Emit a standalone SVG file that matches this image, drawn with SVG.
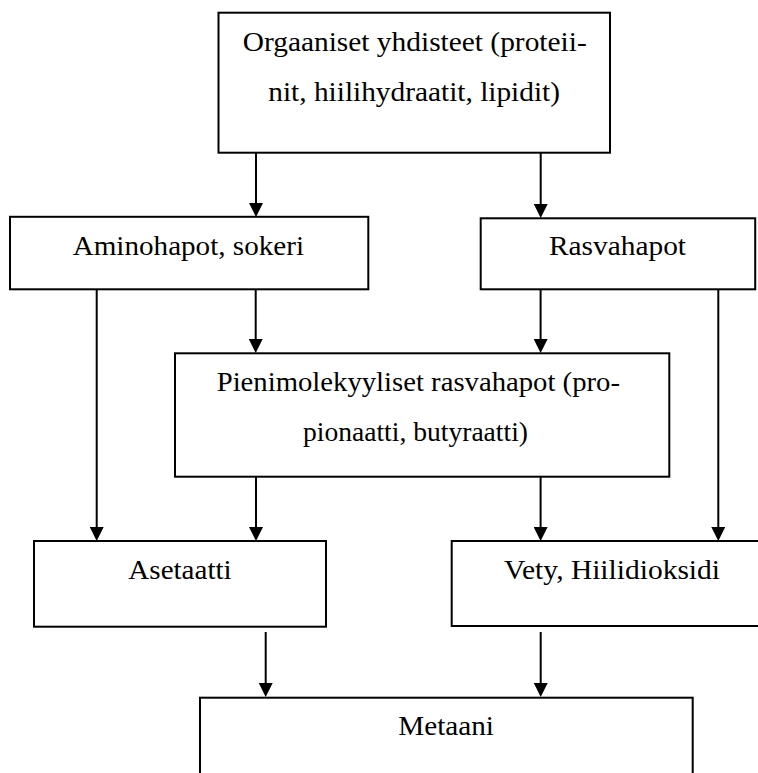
<svg xmlns="http://www.w3.org/2000/svg" width="758" height="773" viewBox="0 0 758 773">
<style>
.box{fill:#fff;stroke:#000;stroke-width:2}
.lbl{font-family:"Liberation Serif","Times New Roman",serif;font-size:27px;fill:#000}
.conn{stroke:#000;stroke-width:2;fill:none;marker-end:url(#ah)}
</style>
<defs>
<marker id="ah" markerUnits="userSpaceOnUse" markerWidth="15" markerHeight="14" refX="6" refY="7" orient="auto">
<path d="M0,0 L14,7 L0,14 z" fill="#000"/>
</marker>
</defs>
<rect width="758" height="773" fill="#fff"/>
<g id="connectors">
<line class="conn" x1="256" y1="153" x2="256" y2="209"/>
<line class="conn" x1="540.7" y1="153" x2="540.7" y2="210"/>
<line class="conn" x1="96.7" y1="289" x2="96.7" y2="533"/>
<line class="conn" x1="255.7" y1="289" x2="255.7" y2="345"/>
<line class="conn" x1="540.6" y1="289" x2="540.6" y2="345"/>
<line class="conn" x1="718.3" y1="289" x2="718.3" y2="533"/>
<line class="conn" x1="256" y1="476" x2="256" y2="533"/>
<line class="conn" x1="540.6" y1="476" x2="540.6" y2="533"/>
<line class="conn" x1="265.7" y1="632" x2="265.7" y2="689"/>
<line class="conn" x1="540.7" y1="632" x2="540.7" y2="689"/>
</g>
<g id="organiset">
<rect class="box" x="218.5" y="12.7" width="391.5" height="140"/>
<text class="lbl" x="242.7" y="50.5" textLength="344" lengthAdjust="spacingAndGlyphs">Orgaaniset yhdisteet (proteii-</text>
<text class="lbl" x="268.3" y="101" textLength="291.7" lengthAdjust="spacingAndGlyphs">nit, hiilihydraatit, lipidit)</text>
</g>
<g id="aminohapot">
<rect class="box" x="10" y="216.8" width="358.3" height="72.5"/>
<text class="lbl" x="72.7" y="255" textLength="231.3" lengthAdjust="spacingAndGlyphs">Aminohapot, sokeri</text>
</g>
<g id="rasvahapot">
<rect class="box" x="480.7" y="218.3" width="274.5" height="71"/>
<text class="lbl" x="549" y="255" textLength="137" lengthAdjust="spacingAndGlyphs">Rasvahapot</text>
</g>
<g id="pienimolekyyliset">
<rect class="box" x="175" y="353.3" width="494.3" height="123.4"/>
<text class="lbl" x="216.7" y="390.7" textLength="403.3" lengthAdjust="spacingAndGlyphs">Pienimolekyyliset rasvahapot (pro-</text>
<text class="lbl" x="303" y="441.2" textLength="225" lengthAdjust="spacingAndGlyphs">pionaatti, butyraatti)</text>
</g>
<g id="asetaatti">
<rect class="box" x="34" y="541" width="292" height="85.7"/>
<text class="lbl" x="128.3" y="579.3" textLength="103.4" lengthAdjust="spacingAndGlyphs">Asetaatti</text>
</g>
<g id="vety">
<rect class="box" x="451.7" y="541" width="330" height="85"/>
<text class="lbl" x="504" y="579.3" textLength="216" lengthAdjust="spacingAndGlyphs">Vety, Hiilidioksidi</text>
</g>
<g id="metaani">
<rect class="box" x="200" y="697.7" width="492.7" height="100"/>
<text class="lbl" x="398.3" y="735" textLength="95.7" lengthAdjust="spacingAndGlyphs">Metaani</text>
</g>
</svg>
